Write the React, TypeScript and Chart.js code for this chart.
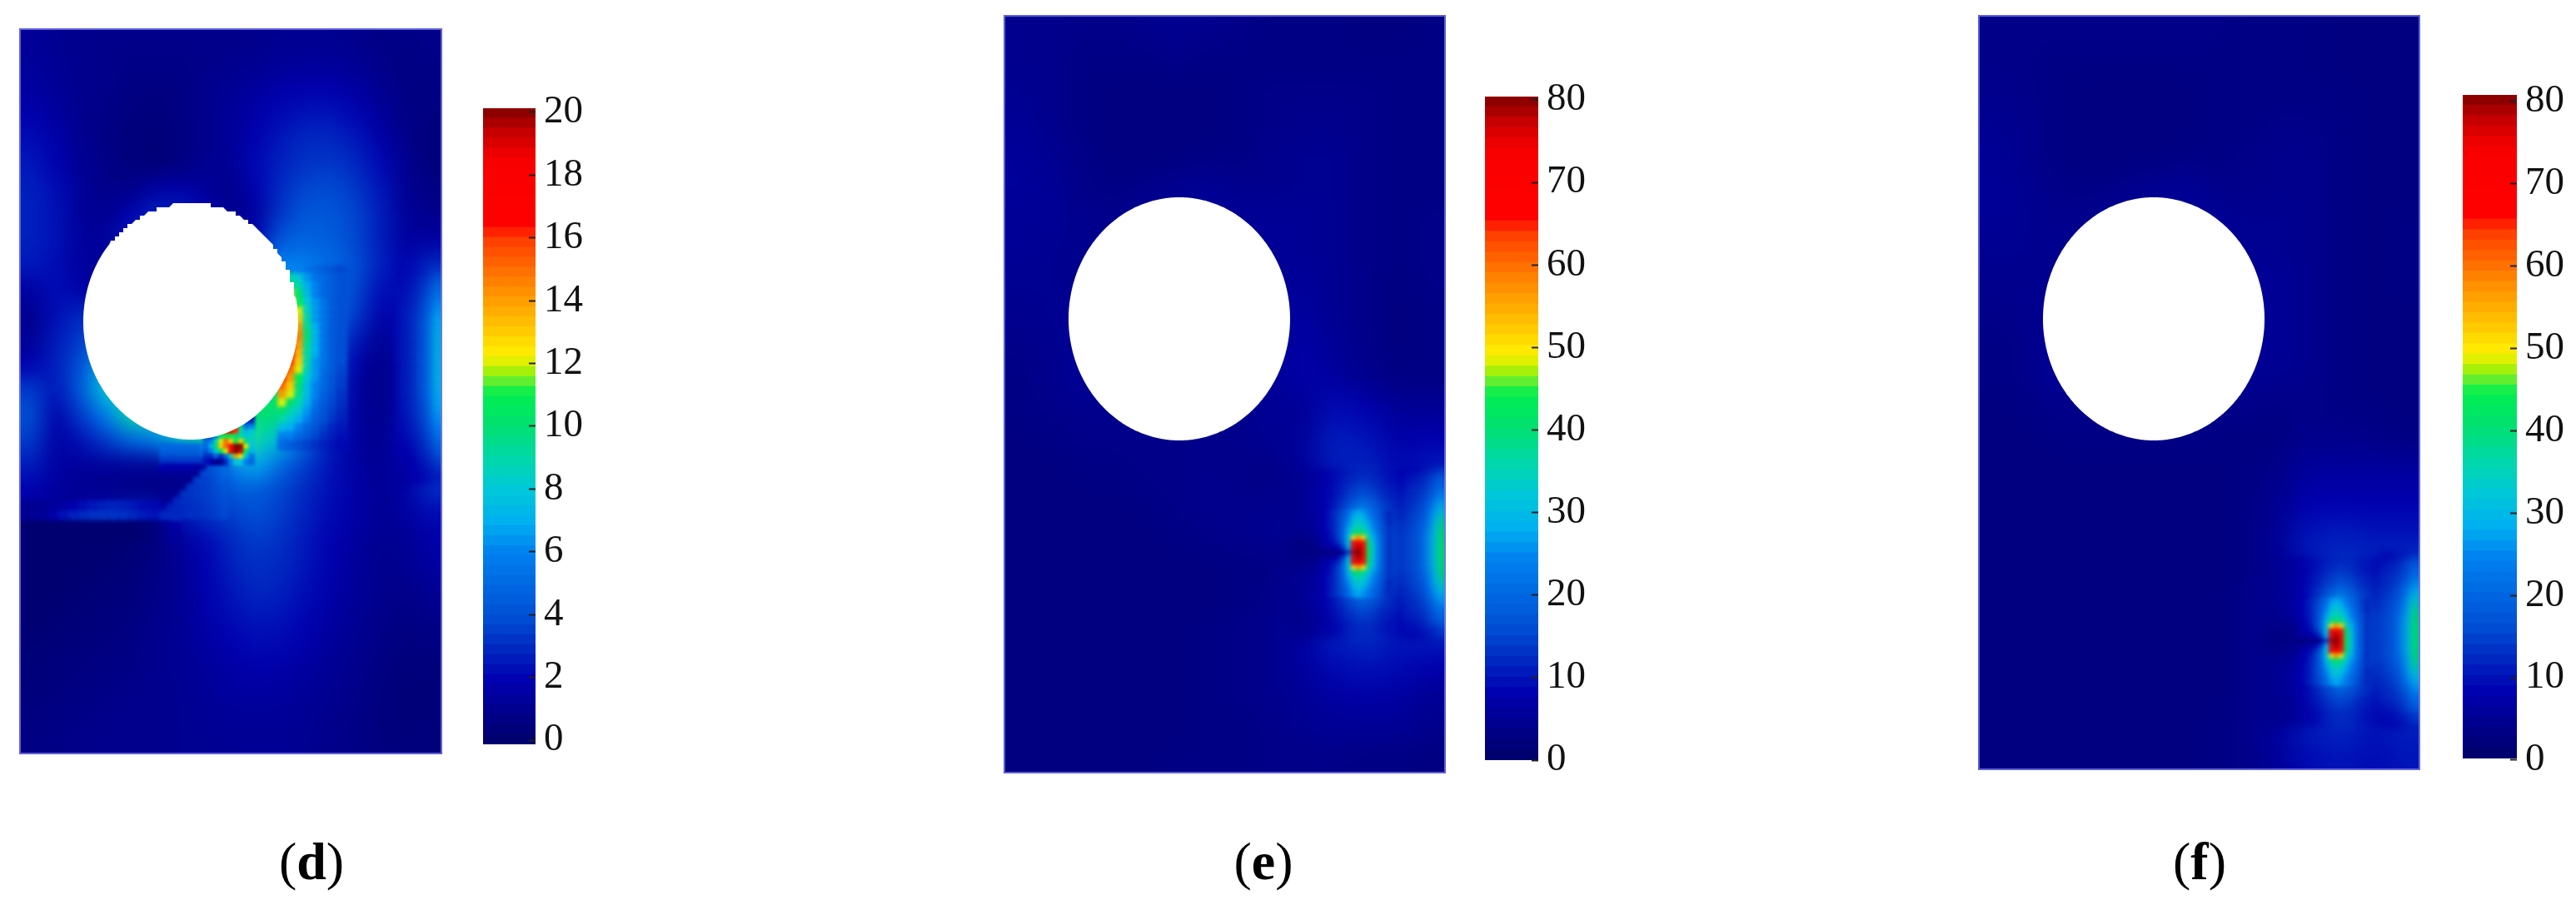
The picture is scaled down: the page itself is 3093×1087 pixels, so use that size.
import React, { useEffect, useRef } from "react";
import { Chart, registerables } from "chart.js";

Chart.register(...registerables);

// ---------- colour bar ----------
const colorStops: [number, string][] = [
  [0, "#00006a"], [0.1, "#0000b0"], [0.15, "#0028c0"], [0.2, "#0050d4"], [0.3, "#0080f0"], [0.35, "#00b0f0"],
  [0.4, "#00c8d8"], [0.45, "#00d8a8"], [0.5, "#00e070"], [0.55, "#00ee50"], [0.57, "#60ee30"], [0.59, "#b8f000"],
  [0.61, "#fff000"], [0.66, "#ffc000"], [0.72, "#ff8800"], [0.79, "#ff4000"], [0.82, "#ff0000"], [0.92, "#f80000"],
  [0.96, "#c80000"], [1, "#800000"],
];
const colorBands = 64;
const ticksD = [0, 2, 4, 6, 8, 10, 12, 14, 16, 18, 20];
const ticksE = [0, 10, 20, 30, 40, 50, 60, 70, 80];

// ---------- panel (d): values 0-20 ----------
const gridD = [
  [1.3,1.1,1.0,.9,.9,.9,.9,.9,.9,1.0,1.1,1.1,1.1,1.0,.8,.8,.9],
  [1.4,1.2,1.0,.9,.8,.8,.8,.9,1,1.1,1.3,1.4,1.4,1.2,.9,.7,.8],
  [1.6,1.3,1.0,.9,.7,.6,.7,1,1.2,1.5,1.8,1.9,1.9,1.6,1.1,.7,.7],
  [1.9,1.5,1.0,.8,.6,.5,.7,1,1.3,1.8,2.2,2.5,2.5,2.1,1.4,.8,.6],
  [2.3,1.8,1.1,.7,.5,.4,.6,1,1.3,2.0,2.6,3.0,3.0,2.6,1.8,.9,.5],
  [2.6,2,1.2,.8,.5,.4,.7,1.1,1.2,2.2,2.8,3.3,3.4,3,2.2,1.1,.5],
  [2.8,2.3,1.3,.9,1,1.6,1.8,1.4,.9,2,3.1,3.8,3.9,3.4,2.5,1.2,.7],
  [2.8,2.4,1.3,1.1,2,2.9,2.9,2,1,1.4,3.4,4.3,4.3,3.7,2.7,1.3,1.0],
  [2.8,2.4,1.4,1.4,2.8,3.2,3,2.5,2,2,4.5,4.8,4.6,3.8,2.7,1.5,1.6],
  [2.6,2.3,1.5,1.2,3,3,3,3,3,4,6,5.8,5,4,2.8,2,3],
  [1.6,2.3,1.8,1,3,3,3,3,4,5,8,6.8,5.2,3.8,2.3,2.4,4],
  [1,2.3,3,3,3,3,3,3,4,6,11,8,5.5,3.5,1.8,2.3,4.8],
  [1.2,2.6,3.5,5,5,5,5,5,6,8,12,8.5,4.8,2.6,1.1,2.3,5],
  [2,2.8,4,7,8,8,8,8,8,10,12,8,4,1.9,.8,2.2,5.5],
  [3.5,2.5,4.5,8,9,9,9,9,10,11,10,7,3.5,1.6,.8,2.2,6],
  [4,1.8,3.5,6,9,9,9,9,10,10,10,6,3,1.6,.9,2.2,6],
  [3.5,1.6,2.4,3.5,5,6,8,9,12,9,7.5,5,2.6,1.6,1,2.2,5.5],
  [2.7,1.6,1.4,1.4,1.3,1.2,1.6,2.5,6,7,5,3.5,2.4,1.6,1.1,2,4],
  [2,1.5,1.2,1,.8,.7,1,2.8,4.5,4.5,3.8,3,2.3,1.7,1.2,1.7,3],
  [1.5,1.2,1.4,2.2,2.8,2.6,2.5,3.2,3.6,4,3.5,2.8,2.2,1.7,1.2,1.5,2.2],
  [.2,.2,.2,.2,.3,.6,1.4,2.2,3,3.5,3.2,2.6,2,1.5,1.1,1.2,1.8],
  [.2,.2,.2,.3,.4,.7,1.2,2,2.8,3.2,3,2.5,1.9,1.4,1,1.1,1.6],
  [.2,.2,.3,.4,.5,.8,1.2,1.9,2.5,3,2.8,2.3,1.8,1.3,1,.9,1.2],
  [.2,.3,.4,.5,.6,.9,1.2,1.8,2.3,2.6,2.5,2.1,1.6,1.2,.9,.7,.9],
  [.3,.4,.5,.6,.7,1,1.2,1.6,2,2.3,2.2,1.9,1.4,1.1,.8,.6,.7],
  [.4,.5,.6,.7,.8,1,1.2,1.4,1.7,1.9,1.8,1.6,1.2,1,.7,.5,.5],
  [.5,.6,.7,.8,.9,1,1.1,1.3,1.5,1.6,1.5,1.3,1.1,.9,.6,.4,.4],
  [.6,.7,.8,.9,1,1,1.1,1.2,1.3,1.3,1.3,1.2,1,.8,.6,.4,.4],
  [.7,.8,.9,1,1,1,1.1,1.1,1.2,1.2,1.2,1.1,.9,.8,.6,.5,.5],
];
const crescentD = [
  [6,6,6,5.5,5,4.5,4.2,3.8],
  [9,9,8,6.5,5.5,5,4.5,4],
  [10,10,9,7,6,5,4.5,4],
  [11,12,10,7.5,6,5,4.5,4],
  [13,13,11,8,6.5,5.5,4.5,4],
  [15,15,12,8.5,6.5,5.5,4.5,4],
  [16,16,13,9,6.5,5.5,4.5,4],
  [16,17,14,9.5,7,5.5,4.5,4],
  [17,17,14.5,10,7,5.5,4.5,4],
  [17,17,14,9.5,7,5.5,4.5,4],
  [17,16.5,13.5,9,7,5.5,4.5,4],
  [17,16,13,9,6.5,5.5,4.5,4],
  [16.5,15,12,8.5,6.5,5.3,4.5,3.8],
  [16,14,11,8,6.5,5,4.3,3.6],
  [15,13,10,7.5,6,5,4.2,3.5],
  [14,12,9.5,7.5,6,4.8,4,3.3],
  [12,10,9,7,5.5,4.5,3.8,3.2],
  [10,9,8,6.5,5,4.2,3.6,3],
  [9,8,7,6,4.6,4,3.4,2.8],
  [7.5,7,6,5,4.2,3.6,3,2.6],
  [6,6,5,4.5,3.8,3.2,2.8,2.4],
  [5,4.5,4,3.6,3.2,2.8,2.5,2.2],
];
const hotD = [
  [9,9,10,10,10,10,8,9,4,2],
  [9,9,9,10,12,13,12,9,3,3],
  [9,9,9,12,17,18,17,10,5,6],
  [9,9,8,11,17,18,16,9,7,8],
  [3,3,6,10,11,11,10,9,8,8.5],
  [5,6,9,12,15,13,11,13,10,8],
  [5,7,10,13,15,17,20,20,12,8],
  [4,6,8,11,12,17,20,19,11,7],
  [3,3,5,3,5,9,14,12,8,5.5],
  [2.5,2,1,1,3,6,8,8,6,5],
];
const crackD = [
  [5,5,5,5,5,5,6,6,6,8],
  [4.5,4.5,4.5,4.5,4.5,4.5,5,5,4,4],
  [3.5,3.5,3.5,3.5,3.5,3.5,3.5,3.3,2.6,3.5],
  [2,2,2,2,2,1.8,1.4,4.2,4.6,5],
  [1.3,1.3,1.3,1.3,1.3,1.1,3.8,4,4.4,5],
  [1,1,1,1,1,3.6,3.6,3.8,4.2,4.6],
  [1,1,1,1,3.4,3.5,3.6,3.8,4,4.3],
  [1.1,1.1,1.1,3.2,3.4,3.5,3.6,3.7,3.9,4.1],
  [1.2,1.2,3,3.2,3.3,3.4,3.5,3.6,3.8,4],
  [1.8,2.8,3,3.1,3.2,3.3,3.4,3.5,3.7,3.9],
  [3,3,3,3.1,3.2,3.2,3.3,3.4,3.6,3.8],
];
const stepD = [
  [1.2,1.2,1.2,1.4,1.6,2,2.3,2.6,2.8,2.9,2.8,2.6,2.3,2.2,2.4,3],
  [1.2,1.2,1.3,1.8,2.4,2.8,3,3.2,3.3,3.3,3.2,3,2.7,2.5,2.5,3.2],
  [.2,.2,.2,.2,.2,.2,.2,.2,.2,.2,.2,.2,.3,.5,1,1.6],
  [.2,.2,.2,.2,.2,.2,.2,.2,.2,.2,.2,.2,.3,.5,.9,1.4],
];
const rightEdgeD = [
  [2.2,2.4,2.6,3,3.3],[2.3,2.5,2.9,3.4,4.2],[2.3,2.6,3.1,3.8,5],[2.4,2.8,3.3,4.1,5.6],[2.5,2.9,3.5,4.4,6.2],
  [2.6,3,3.7,4.7,6.6],[2.6,3.1,3.8,5,7],[2.6,3.1,3.9,5.2,7.2],[2.6,3.1,3.9,5.2,7.4],[2.6,3.1,3.9,5.2,7.4],
  [2.6,3.1,3.9,5.2,7.4],[2.6,3.1,3.9,5.2,7.4],[2.6,3.1,3.9,5.2,7.4],[2.6,3.1,3.9,5.2,7.4],[2.6,3.1,3.9,5.2,7.4],
  [2.6,3.1,3.9,5,7.2],[2.5,3,3.8,4.8,7],[2.5,3,3.6,4.6,6.8],[2.4,2.9,3.5,4.4,6.4],[2.3,2.8,3.3,4.1,6],
  [2.2,2.6,3.1,3.8,5.4],[2,2.4,2.9,3.5,4.8],[1.9,2.2,2.7,3.2,4.2],[1.7,2,2.4,2.9,3.6],[1.6,1.9,2.2,2.6,3.1],[1.5,1.7,2,2.3,2.6],
];

// ---------- panels (e), (f): values 0-80 ----------
const gridE = [
  [4,4,3.5,3.5,4,4.5,4,3.5,3,3,3,2.5,2.5,3],
  [4,4,3,3,3,3.5,3,3,3,3,3,3,3,3],
  [4.5,4,3,2.5,2.5,2.5,2.5,3,3.5,3.5,3.5,3.5,3,3],
  [5,4,3,2.5,2.5,2.5,2.5,3,3.5,4,4,3.5,3,3],
  [5.5,4.5,3.5,2.5,2.5,2.5,3,3,4,4.5,4.5,3.5,3,3],
  [5.5,5,3.5,3,3.5,4.5,5,4,4,4.5,4.5,3.5,3,3],
  [5,5,4,4,5,5,5,5,5,5,4.5,3.5,3,3.5],
  [5,4.5,4,4.5,5,5,5,5,5,5,4.5,3.5,3,3.5],
  [4.5,4.5,4,5,5,5,5,5,5,5.5,4.5,3.5,2.5,3.5],
  [4,4.5,5,5,5,5,5,5,5,6,4.5,3.5,2.5,3],
  [3.5,4,5,5,5,5,5,5,5,7,5,3.5,2.5,3],
  [3,4,5,5,5,5,5,5,5,7,6,4,3,3],
  [3,3.5,4,4,4,4,4,4,5,5,9,8,5,5],
  [2.5,3,3.5,3.5,3.5,3.5,3.5,4,4.5,5.5,11,10,7,8],
  [2.5,2.5,3,3,3.5,3.5,4,3.5,3,6,11,12,9,11],
  [2.5,2.5,2.5,2.5,3,3.5,4,4,4,6,11,15,12,15],
  [2.5,2.5,2.5,2.5,2.5,3,3.5,4,4.5,6,11,20,15,19],
  [2.5,2.5,2.5,2.5,2.5,2.5,2.5,3,3,6,11,20,15,19],
  [2.5,2.5,2.5,2.5,2.5,2.5,2.5,3,3.5,7,13,17,14,16],
  [2.5,2.5,2.5,2.5,2.5,2.5,3,3.5,4,7,12,13,11,12],
  [2.5,2.5,2.5,2.5,2.5,2.5,3,3.5,4,6,9,10,9,8],
  [2.5,2.5,2.5,2.5,2.5,2.5,3,3.5,4,5,6.5,7,6.5,5],
  [2.5,2.5,2.5,2.5,2.5,2.5,3,3,3.5,4.5,5,5,5,4],
  [2.5,2.5,2.5,2.5,2.5,3,3,3,3.5,3.5,3.5,3,3,2.5],
];
const gridF = [
  [3.5,3.5,3.5,3.5,3.5,3.5,3.5,3.5,3,3,3,2.5,2.5,2.5],
  [3.5,3.5,3,3,3,3,3,3,3,3,3,2.5,2.5,2.5],
  [4,3.5,3,2.5,2.5,2.5,2.5,3,3,3,3,3,2.5,2.5],
  [4.5,4,3,2.5,2.5,2.5,2.5,3,3,3.5,3.5,3,2.5,2.5],
  [5,4,3,2.5,2.5,2.5,3,3,3.5,4,4,3,2.5,2.5],
  [5,4.5,3.5,3,3.5,4.5,5,4,3.5,4,4,3,2.5,2.5],
  [5,4.5,4,4,5,5,5,5,4.5,4.5,4,3,2.5,3],
  [4.5,4.5,4,4.5,5,5,5,5,4.5,4.5,4,3,2.5,3],
  [4,4,4,5,5,5,5,5,5,5,4,3,2.5,3],
  [3.5,4,5,5,5,5,5,5,5,5,4,3,2.5,2.5],
  [3,3.5,5,5,5,5,5,5,5,5,4,3,2.5,2.5],
  [3,3.5,5,5,5,5,5,5,4.5,4.5,4,3,2.5,2.5],
  [2.5,3,3.5,3.5,3.5,3.5,3.5,3.5,3.5,3,3.5,3,3,2.5],
  [2.5,2.5,3,3,3,3,3,3,2.5,3,4,4,3.5,3],
  [2.5,2.5,2.5,2.5,2.5,2.5,2.5,2.5,3,3.5,6,6,6,6],
  [2.5,2.5,2.5,2.5,2.5,2.5,2.5,2.5,3,4.5,8,8,8,8],
  [2.5,2.5,2.5,2.5,2.5,2.5,2.5,2.5,3,5,10,11,10,10],
  [2.5,2.5,2.5,2.5,2.5,2.5,2.5,2.5,3,5.5,11,13,12,13],
  [2.5,2.5,2.5,2.5,2.5,2.5,2.5,2.5,3.5,5.5,11,16,14,17],
  [2.5,2.5,2.5,2.5,2.5,2.5,2.5,2.5,3.5,5.5,11,20,15,20],
  [2.5,2.5,2.5,2.5,2.5,2.5,2.5,2.5,3.5,6,12,20,15,20],
  [2.5,2.5,2.5,2.5,2.5,2.5,2.5,2.5,3.5,6,12,16,13,16],
  [2.5,2.5,2.5,2.5,2.5,2.5,2.5,3,3.5,6,11,12,10,11],
  [2.5,2.5,2.5,2.5,2.5,2.5,2.5,3,3.5,5.5,9,10,9,10],
];
const haloEF = [
  [4,5,6,7,9,11,12,12,10,9,8,7],
  [4,5,6,8,10,13,15,14,11,10,9,8],
  [4,5,6,8,11,15,19,17,13,11,10,9],
  [4,5,6,8,13,20,26,21,15,12,11,10],
  [4,5,6,8,14,23,32,24,16,13,12,11],
  [4,4,5,7,13,28,46,28,17,14,13,12],
  [3,3,3,4,8,30,70,31,17,14,13,13],
  [3,3,3,4,8,30,70,31,17,14,13,13],
  [4,4,5,7,13,28,46,28,17,14,13,12],
  [4,5,6,8,14,23,32,24,16,13,12,11],
  [4,5,6,8,13,20,26,21,15,12,11,10],
  [4,5,6,8,11,15,19,17,13,11,10,9],
  [4,4,5,7,10,13,15,14,11,10,9,8],
  [4,4,5,6,8,11,12,12,10,9,8,7],
];
const hotspotEF = [
  [8,10,12,14,17,21,26,28,26,23,20,17,14,12],
  [8,10,12,15,18,23,29,31,29,25,21,18,15,12],
  [8,10,12,15,19,25,31,33,31,27,23,19,15,12],
  [8,10,12,15,20,27,34,36,34,29,24,20,16,13],
  [8,9,12,15,21,29,38,41,38,32,26,21,16,13],
  [7,9,11,15,21,31,50,56,50,36,28,22,17,13],
  [7,8,10,13,20,32,68,72,65,40,30,23,17,13],
  [5,6,7,9,14,28,74,78,70,42,31,23,17,13],
  [3,3,3,3,5,14,78,80,72,44,31,23,17,13],
  [5,6,7,9,14,28,74,78,70,42,31,23,17,13],
  [7,8,10,13,20,32,68,72,65,40,30,23,17,13],
  [7,9,11,15,21,31,50,56,50,36,28,22,17,13],
  [8,9,12,15,21,29,38,41,38,32,26,21,16,13],
  [8,10,12,15,20,27,34,36,34,29,24,20,16,13],
  [8,10,12,15,19,25,31,33,31,27,23,19,15,12],
  [8,10,12,15,18,23,29,31,29,25,21,18,15,12],
  [8,10,12,14,17,21,26,28,26,23,20,17,14,12],
];
const edgeBlobEF = [
  [9,9,10,11,12,14],[10,11,12,14,16,19],[11,12,13,15,18,21],[12,13,14,16,20,23],[12,13,15,18,22,26],
  [13,14,16,20,25,29],[13,15,17,21,27,32],[14,16,18,23,29,36],[14,16,19,24,31,39],[15,17,20,25,32,42],
  [15,17,20,26,33,43],[15,17,20,26,33,44],[15,17,20,26,33,44],[15,17,20,26,33,44],[15,17,20,26,33,43],
  [15,17,20,25,32,42],[14,16,19,24,31,39],[14,16,18,23,29,36],[13,15,17,21,27,32],[13,14,16,20,25,29],
  [12,13,15,18,22,26],[12,13,14,16,20,23],[11,12,13,15,18,21],[10,11,12,14,16,19],[9,9,10,11,12,14],
];

type Patch = { rows: number[][]; x0: number; y0: number; cell: number; soft: number };
type PanelCfg = {
  left: number; top: number; w: number; h: number; max: number;
  grid: number[][]; cell: number; blur: number; patches: Patch[];
  hole: { cx: number; cy: number; rx: number; ry: number; jag: number };
};

const panels: PanelCfg[] = [
  {
    left: 23, top: 34, w: 508, h: 872, max: 20, grid: gridD, cell: 30, blur: 13,
    patches: [
      { rows: stepD, x0: 0, y0: 569, cell: 12, soft: 2 },
      { rows: rightEdgeD, x0: 458, y0: 286, cell: 10, soft: 5 },
      { rows: crackD, x0: 170, y0: 500, cell: 8, soft: 2 },
      { rows: crescentD, x0: 312, y0: 286, cell: 10, soft: 2 },
      { rows: hotD, x0: 222, y0: 464, cell: 6, soft: 1.5 },
    ],
    hole: { cx: 206, cy: 352, rx: 129, ry: 142, jag: 5 },
  },
  {
    left: 1205, top: 18, w: 531, h: 911, max: 80, grid: gridE, cell: 38, blur: 16,
    patches: [
      { rows: haloEF, x0: 340, y0: 549, cell: 14, soft: 7 },
      { rows: edgeBlobEF, x0: 483, y0: 545, cell: 8, soft: 4 },
      { rows: hotspotEF, x0: 382, y0: 596, cell: 6, soft: 2 },
    ],
    hole: { cx: 211, cy: 365, rx: 133, ry: 146, jag: 0 },
  },
  {
    left: 2375, top: 18, w: 531, h: 907, max: 80, grid: gridF, cell: 38, blur: 16,
    patches: [
      { rows: haloEF, x0: 344, y0: 655, cell: 14, soft: 7 },
      { rows: edgeBlobEF, x0: 483, y0: 648, cell: 8, soft: 4 },
      { rows: hotspotEF, x0: 386, y0: 702, cell: 6, soft: 2 },
    ],
    hole: { cx: 211, cy: 365, rx: 133, ry: 146, jag: 0 },
  },
];

const bars = [
  { left: 580, top: 130, w: 63, h: 764, max: 20, ticks: ticksD, axisMin: -0.13, axisMax: 20.13 },
  { left: 1783, top: 116, w: 64, h: 797, max: 80, ticks: ticksE, axisMin: 0, axisMax: 80.4 },
  { left: 2957, top: 114, w: 65, h: 797, max: 80, ticks: ticksE, axisMin: 0.2, axisMax: 80.8 },
];
const captions = [
  { letter: "d", cx: 374 },
  { letter: "e", cx: 1517 },
  { letter: "f", cx: 2641 },
];

function hex(c: string) {
  return [1, 3, 5].map((i) => parseInt(c.slice(i, i + 2), 16));
}
function colorAt(f: number) {
  const t = Math.max(0, Math.min(1, f));
  for (let i = 1; i < colorStops.length; i++) {
    if (t <= colorStops[i][0]) {
      const [a, ca] = colorStops[i - 1];
      const [b, cb] = colorStops[i];
      const k = (t - a) / (b - a);
      const A = hex(ca), B = hex(cb);
      return `rgb(${A.map((v, j) => Math.round(v + (B[j] - v) * k)).join(",")})`;
    }
  }
  return colorStops[colorStops.length - 1][1];
}

function cellsOf(rows: number[][], x0: number, y0: number, cell: number) {
  const out: { x: number; y: number; v: number }[] = [];
  rows.forEach((row, j) =>
    row.forEach((v, i) => out.push({ x: x0 + (i + 0.5) * cell, y: y0 + (j + 0.5) * cell, v }))
  );
  return out;
}

function blurSelf(chart: any, sigma: number) {
  const { canvas, ctx, width: W, height: H } = chart;
  const p = Math.ceil(sigma * 3) + 2;
  const t = document.createElement("canvas");
  t.width = W + 2 * p;
  t.height = H + 2 * p;
  const c = t.getContext("2d")!;
  c.drawImage(canvas, 0, 0, W + 2 * p, H + 2 * p);
  c.drawImage(canvas, 0, 0, 1, H, 0, p, p, H);
  c.drawImage(canvas, W - 1, 0, 1, H, W + p, p, p, H);
  c.drawImage(canvas, 0, 0, W, 1, p, 0, W, p);
  c.drawImage(canvas, 0, H - 1, W, 1, p, H + p, W, p);
  c.drawImage(canvas, p, p);
  ctx.save();
  ctx.setTransform(1, 0, 0, 1, 0, 0);
  ctx.filter = `blur(${sigma}px)`;
  ctx.drawImage(t, -p, -p);
  ctx.restore();
}

const heatPlugin = {
  id: "heatSmooth",
  beforeDatasetDraw(chart: any, args: any) {
    const s = chart.data.datasets[args.index].soft;
    if (s) chart.ctx.filter = `blur(${s}px)`;
  },
  afterDatasetDraw(chart: any, args: any) {
    const ds = chart.data.datasets[args.index];
    chart.ctx.filter = "none";
    if (ds.smooth) blurSelf(chart, ds.smooth);
  },
  afterDatasetsDraw(chart: any) {
    const { ctx, scales } = chart;
    const hole = chart.options.plugins.heatSmooth.hole;
    const { x, y } = scales;
    blurSelf(chart, 0.8);
    ctx.save();
    ctx.fillStyle = "#fff";
    ctx.beginPath();
    for (let i = 0; i < 360; i++) {
      const a = (i * Math.PI) / 180;
      let vx = hole.cx + hole.rx * Math.cos(a);
      let vy = hole.cy + hole.ry * Math.sin(a);
      if (hole.jag && Math.sin(a) < -0.2 && Math.cos(a) > -0.75) {
        vx = Math.round(vx / hole.jag) * hole.jag;
        vy = Math.round(vy / hole.jag) * hole.jag;
      }
      const px = x.getPixelForValue(vx), py = y.getPixelForValue(vy);
      if (i === 0) ctx.moveTo(px, py);
      else ctx.lineTo(px, py);
    }
    ctx.closePath();
    ctx.fill();
    ctx.strokeStyle = "rgba(120,120,235,0.8)";
    ctx.lineWidth = 2;
    ctx.strokeRect(1, 1, chart.width - 2, chart.height - 2);
    ctx.restore();
  },
};

function HeatPanel({ cfg }: { cfg: PanelCfg }) {
  const ref = useRef<HTMLCanvasElement>(null);
  useEffect(() => {
    const color = (c: any) => colorAt((c.raw?.v ?? 0) / cfg.max);
    const n = cfg.patches.length;
    const datasets: any[] = [
      {
        data: cellsOf(cfg.grid, 0, 0, cfg.cell),
        pointStyle: "rect",
        pointRadius: (cfg.cell * 1.06) / Math.SQRT2,
        pointBorderWidth: 0,
        backgroundColor: color,
        smooth: cfg.blur,
        order: n + 1,
      },
      ...cfg.patches.map((p, i) => ({
        data: cellsOf(p.rows, p.x0, p.y0, p.cell),
        pointStyle: "rect",
        pointRadius: (p.cell * 1.3) / Math.SQRT2,
        pointBorderWidth: 0,
        backgroundColor: color,
        soft: p.soft,
        order: n - i,
      })),
    ];
    const chart = new Chart(ref.current!, {
      type: "scatter",
      data: { datasets },
      options: {
        animation: false,
        responsive: false,
        events: [],
        layout: { padding: 0, autoPadding: false },
        scales: {
          x: { type: "linear", display: false, min: 0, max: cfg.w },
          y: { type: "linear", display: false, min: 0, max: cfg.h, reverse: true },
        },
        plugins: { legend: { display: false }, tooltip: { enabled: false }, heatSmooth: { hole: cfg.hole } },
      } as any,
      plugins: [heatPlugin],
    } as any);
    return () => chart.destroy();
  }, [cfg]);
  return (
    <canvas
      ref={ref}
      width={cfg.w}
      height={cfg.h}
      style={{ position: "absolute", left: cfg.left, top: cfg.top, width: cfg.w, height: cfg.h }}
    />
  );
}

function ColorBar({ cfg }: { cfg: (typeof bars)[number] }) {
  const ref = useRef<HTMLCanvasElement>(null);
  const pad = 30;
  const labelW = 66;
  useEffect(() => {
    const datasets = Array.from({ length: colorBands }, (_, i) => ({
      data: [[(i / colorBands) * cfg.max, ((i + 1.02) / colorBands) * cfg.max]],
      backgroundColor: colorAt((i + 0.5) / colorBands),
      borderWidth: 0,
      grouped: false,
      barPercentage: 1,
      categoryPercentage: 1,
      yAxisID: "yBar",
    }));
    const chart = new Chart(ref.current!, {
      type: "bar",
      data: { labels: [""], datasets },
      options: {
        animation: false,
        responsive: false,
        events: [],
        layout: { padding: { top: pad, bottom: pad, left: 0, right: 0 }, autoPadding: false },
        scales: {
          x: { display: false },
          yBar: { display: false, min: 0, max: cfg.max },
          y: {
            position: "right",
            min: cfg.axisMin,
            max: cfg.axisMax,
            afterBuildTicks: (s: any) => {
              s.ticks = cfg.ticks.map((value) => ({ value }));
            },
            afterFit: (s: any) => {
              s.width = labelW;
              s.paddingTop = 0;
              s.paddingBottom = 0;
            },
            grid: { drawOnChartArea: false, tickLength: -8, tickWidth: 2, tickColor: "#222", z: 1 },
            border: { display: false },
            ticks: { padding: 18, color: "#111", font: { family: "'Liberation Serif'", size: 47 }, autoSkip: false, maxRotation: 0 },
          },
        },
        plugins: { legend: { display: false }, tooltip: { enabled: false } },
      } as any,
    } as any);
    return () => chart.destroy();
  }, [cfg]);
  const W = cfg.w + labelW;
  const H = cfg.h + 2 * pad;
  return (
    <canvas
      ref={ref}
      width={W}
      height={H}
      style={{ position: "absolute", left: cfg.left, top: cfg.top - pad, width: W, height: H, filter: "blur(0.6px)" }}
    />
  );
}

export default function App() {
  return (
    <div style={{ position: "absolute", left: 0, top: 0, width: 3093, height: 1087, overflow: "hidden", background: "#fff" }}>
      {panels.map((p, i) => (
        <HeatPanel key={i} cfg={p} />
      ))}
      {bars.map((b, i) => (
        <ColorBar key={i} cfg={b} />
      ))}
      {captions.map((c) => (
        <div
          key={c.letter}
          style={{
            position: "absolute",
            left: c.cx - 100,
            width: 200,
            top: 999,
            textAlign: "center",
            fontFamily: "'Liberation Serif'",
            fontSize: 64,
            lineHeight: "72px",
            color: "#000",
          }}
        >
          (<b>{c.letter}</b>)
        </div>
      ))}
    </div>
  );
}
